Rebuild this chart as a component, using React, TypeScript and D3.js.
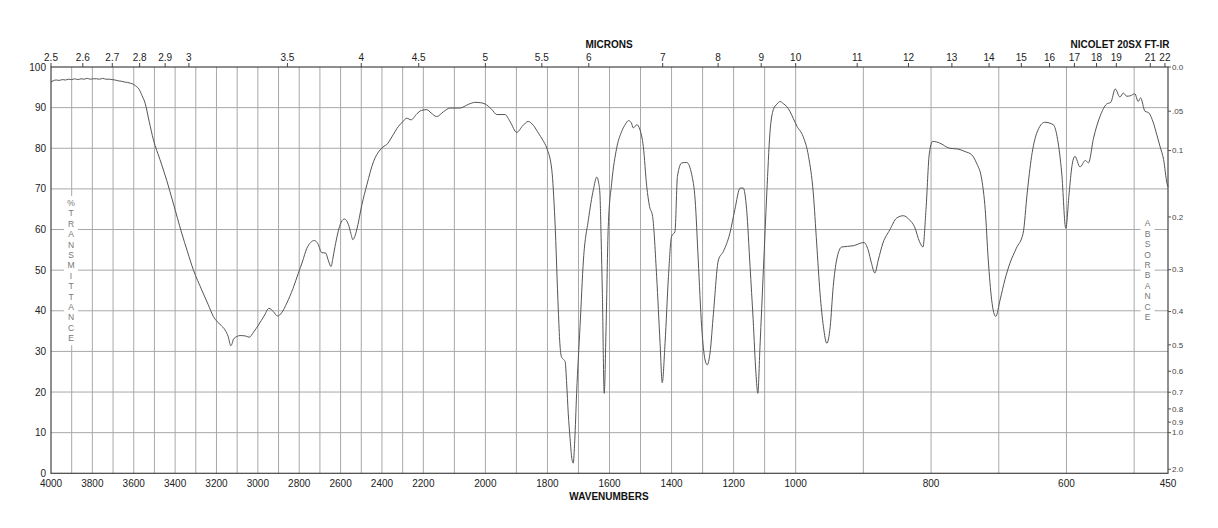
import { useEffect, useRef } from 'react';
import * as d3 from 'd3';

// spectrum: wavenumber (cm-1) and %T
const wavenumbers = [
  4000, 3990, 3975, 3960, 3945, 3930, 3915, 3900, 3885, 3870, 3855, 3840, 3825, 3810, 3795, 3780,
  3765, 3750, 3735, 3720, 3705, 3690, 3675, 3660, 3645, 3630, 3615, 3600, 3585, 3578, 3560, 3545,
  3525, 3505, 3473, 3440, 3409, 3368, 3340, 3312, 3271, 3240, 3215, 3180, 3159, 3143, 3131, 3124,
  3118, 3100, 3086, 3060, 3042, 3020, 2997, 2970, 2946, 2925, 2905, 2885, 2860, 2830, 2804, 2785,
  2763, 2745, 2727, 2710, 2691, 2672, 2660, 2646, 2637, 2627, 2602, 2582, 2562, 2550, 2541, 2532,
  2522, 2497, 2473, 2441, 2409, 2390, 2377, 2352, 2320, 2300, 2280, 2259, 2231, 2210, 2189, 2175,
  2157, 2135, 2114, 2082, 2055, 2033, 2015, 2001, 1980, 1963, 1937, 1920, 1899, 1880, 1862, 1845,
  1829, 1815, 1802, 1786, 1776, 1765, 1760, 1755, 1748, 1743, 1738, 1733, 1727, 1722, 1717, 1712,
  1706, 1695, 1684, 1668, 1652, 1641, 1635, 1631, 1627, 1623, 1617, 1611, 1604, 1593, 1577, 1561,
  1548, 1539, 1530, 1523, 1512, 1502, 1491, 1480, 1471, 1461, 1448, 1437, 1430, 1421, 1410, 1400,
  1389, 1381, 1367, 1351, 1335, 1324, 1314, 1303, 1292, 1285, 1276, 1265, 1249, 1233, 1212, 1196,
  1179, 1169, 1158, 1147, 1137, 1128, 1122, 1115, 1104, 1093, 1083, 1072, 1060, 1050, 1040, 1029,
  1018, 1008, 998, 989, 981, 974, 969, 964, 959, 954, 949, 944.5, 939.5, 932, 915, 899,
  893, 888, 883, 878, 871, 861, 851, 841, 832, 824.5, 817, 812, 807.5, 802.5, 797.5, 787.5,
  772.5, 760, 750, 740, 733, 725, 720, 715.5, 710.5, 704.5, 698, 691, 683.5, 674, 664, 658,
  651.5, 644, 632, 619.5, 613, 607, 601, 596, 592, 587.5, 580, 572, 567.5, 560, 550.5, 540.5,
  534.5, 528, 521, 516, 511, 506, 499, 494, 490.5, 484, 479, 471.5, 466.5, 461.5, 456.5, 451.5, 450,
];
const transmittance = [
  96.3, 96.6, 96.8, 96.7, 96.9, 96.8, 97.0, 96.9, 97.1, 96.9, 97.1, 97.0, 97.2, 97.0, 97.1, 97.1,
  97.0, 97.2, 97.0, 97.0, 96.9, 96.8, 96.6, 96.5, 96.3, 96.2, 96.0, 95.7, 95.1, 94.8, 93.0, 91.1,
  86.5, 82.1, 77.2, 72.0, 66.5, 59.1, 54.5, 50.1, 45.1, 41.5, 38.6, 36.5, 35.3, 33.6, 31.4, 32.0,
  33.0, 33.7, 33.9, 33.8, 33.5, 34.8, 36.5, 38.7, 40.6, 39.8, 38.7, 39.5, 41.9, 45.5, 49.3, 52.0,
  55.4, 56.8, 57.3, 56.5, 54.3, 54.2, 52.5, 50.9, 53.0, 55.8, 61.2, 62.6, 61.2, 59.0, 57.5, 58.2,
  59.9, 66.1, 71.0, 76.7, 79.6, 80.5, 80.9, 82.8, 85.4, 86.5, 87.4, 87.0, 88.5, 89.3, 89.5, 88.7,
  87.8, 89.0, 89.9, 89.9, 90.8, 91.3, 91.2, 90.9, 89.6, 88.3, 88.3, 86.5, 83.9, 85.5, 86.6, 85.6,
  83.7, 82.0, 80.0, 74.7, 62.4, 40.2, 32.0, 28.7, 28.0, 27.5, 22.0, 14.8, 8.5, 4.0, 2.5, 8.0,
  19.7, 36.1, 52.5, 62.4, 69.8, 72.9, 71.5, 69.0, 58.0, 44.3, 19.7, 36.1, 60.7, 71.4, 80.0, 84.1,
  86.0, 86.8, 86.3, 85.0, 85.8, 84.6, 80.4, 70.6, 65.7, 63.2, 48.4, 32.0, 22.3, 32.0, 48.4, 58.3,
  59.5, 73.1, 76.4, 76.5, 73.5, 67.3, 52.5, 36.1, 27.9, 26.7, 29.6, 39.4, 52.5, 54.6, 59.1, 64.9,
  70.2, 70.2, 64.9, 50.9, 37.8, 24.6, 19.7, 31.2, 50.1, 69.0, 83.7, 89.5, 90.9, 91.5, 91.0, 90.3,
  89.0, 87.4, 85.4, 82.9, 78.0, 69.0, 56.7, 44.3, 36.1, 32.0, 36.1, 46.0, 52.5, 55.7, 56.0, 56.8,
  55.0, 51.7, 49.3, 52.5, 56.7, 59.9, 62.8, 63.4, 62.4, 60.7, 57.0, 55.7, 64.9, 78.8, 81.7, 81.3,
  80.0, 79.8, 79.2, 78.4, 76.4, 72.2, 64.9, 52.5, 42.7, 38.6, 42.7, 47.6, 51.7, 55.4, 59.1, 69.0,
  78.0, 83.7, 86.4, 85.8, 82.1, 73.9, 60.3, 69.0, 75.5, 78.0, 75.4, 77.0, 76.4, 82.5, 87.8, 90.9,
  91.3, 94.6, 92.6, 93.6, 92.8, 92.9, 93.4, 91.5, 92.4, 89.1, 88.8, 86.2, 83.3, 80.3, 77.2, 71.4, 70.5,
];

const wavenumberTicks = [4000, 3800, 3600, 3400, 3200, 3000, 2800, 2600, 2400, 2200, 2000, 1800, 1600, 1400, 1200, 1000, 800, 600, 450];
const micronTicks = [2.5, 2.6, 2.7, 2.8, 2.9, 3, 3.5, 4, 4.5, 5, 5.5, 6, 7, 8, 9, 10, 11, 12, 13, 14, 15, 16, 17, 18, 19, 21, 22];
const percentTicks = [0, 10, 20, 30, 40, 50, 60, 70, 80, 90, 100];
const absorbanceTicks = [0, 0.05, 0.1, 0.2, 0.3, 0.4, 0.5, 0.6, 0.7, 0.8, 0.9, 1.0, 2.0];
const absorbanceLabels = ['0.0', '.05', '0.1', '0.2', '0.3', '0.4', '0.5', '0.6', '0.7', '0.8', '0.9', '1.0', '2.0'];

const FONT = "'Liberation Sans', Arial, Helvetica, sans-serif";

const App = () => {
  const ref = useRef<SVGSVGElement>(null);

  useEffect(() => {
    const width = 1218;
    const height = 528;
    const left = 51;
    const right = 1168;
    const top = 67;
    const bottom = 473.3;
    const seg = (right - left) / 3;

    const svg = d3.select(ref.current);
    svg.selectAll('*').remove();
    svg.attr('width', width).attr('height', height);

    // Nicolet paper: three equal-width panels with different cm-1 scales
    const x = d3.scaleLinear()
      .domain([4000, 2200, 1000, 450])
      .range([left, left + seg, left + 2 * seg, right]);
    const y = d3.scaleLinear().domain([0, 100]).range([bottom, top]);

    // vertical grid every 100 cm-1
    const gridX = d3.range(3900, 450, -100);
    svg.append('g')
      .selectAll('line')
      .data(gridX)
      .enter().append('line')
      .attr('x1', d => x(d)).attr('x2', d => x(d))
      .attr('y1', top).attr('y2', bottom)
      .attr('stroke', '#a8a8a8')
      .attr('stroke-width', 1);

    svg.append('g')
      .selectAll('line')
      .data(percentTicks.slice(1, -1))
      .enter().append('line')
      .attr('x1', left).attr('x2', right)
      .attr('y1', d => y(d)).attr('y2', d => y(d))
      .attr('stroke', '#a8a8a8')
      .attr('stroke-width', 1);

    // vertical axis captions with white boxes breaking the grid
    const drawStacked = (text: string, cx: number, y0: number) => {
      const chars = text.split('');
      svg.append('rect')
        .attr('x', cx - 7).attr('y', y0 - 7)
        .attr('width', 14).attr('height', (chars.length - 1) * 10.4 + 14)
        .attr('fill', '#fff');
      svg.append('g')
        .selectAll('text')
        .data(chars)
        .enter().append('text')
        .attr('x', cx)
        .attr('y', (_, i) => y0 + i * 10.4)
        .attr('dy', '0.35em')
        .attr('text-anchor', 'middle')
        .attr('font-family', FONT)
        .attr('font-size', 8.5)
        .attr('fill', '#777')
        .text(d => d);
    };
    drawStacked('%TRANSMITTANCE', 71, 203);
    drawStacked('ABSORBANCE', 1147.5, 223.5);

    // spectrum
    const line = d3.line<number>()
      .x(d => x(wavenumbers[d]))
      .y(d => y(transmittance[d]))
      .curve(d3.curveMonotoneX);
    svg.append('path')
      .datum(d3.range(wavenumbers.length))
      .attr('d', line)
      .attr('fill', 'none')
      .attr('stroke', '#555')
      .attr('stroke-width', 1);

    // frame
    svg.append('rect')
      .attr('x', left).attr('y', top)
      .attr('width', right - left).attr('height', bottom - top)
      .attr('fill', 'none')
      .attr('stroke', '#444')
      .attr('stroke-width', 1.2);

    // bottom: wavenumbers
    svg.append('g')
      .selectAll('text')
      .data(wavenumberTicks)
      .enter().append('text')
      .attr('x', d => x(d))
      .attr('y', 487)
      .attr('text-anchor', 'middle')
      .attr('font-family', FONT)
      .attr('font-size', 10)
      .attr('fill', '#222')
      .text(d => d);

    // top: microns
    const topAxis = svg.append('g');
    topAxis.selectAll('line')
      .data(micronTicks)
      .enter().append('line')
      .attr('x1', d => x(10000 / d)).attr('x2', d => x(10000 / d))
      .attr('y1', top - 4).attr('y2', top)
      .attr('stroke', '#444');
    topAxis.selectAll('text')
      .data(micronTicks)
      .enter().append('text')
      .attr('x', d => x(10000 / d))
      .attr('y', 61)
      .attr('text-anchor', 'middle')
      .attr('font-family', FONT)
      .attr('font-size', 10)
      .attr('fill', '#222')
      .text(d => d);

    // left: %T
    svg.append('g')
      .selectAll('text')
      .data(percentTicks)
      .enter().append('text')
      .attr('x', 46)
      .attr('y', d => y(d))
      .attr('dy', '0.35em')
      .attr('text-anchor', 'end')
      .attr('font-family', FONT)
      .attr('font-size', 10)
      .attr('fill', '#222')
      .text(d => d);

    // right: absorbance
    const absY = (a: number) => y(100 * Math.pow(10, -a));
    const rightAxis = svg.append('g');
    rightAxis.selectAll('line')
      .data(absorbanceTicks)
      .enter().append('line')
      .attr('x1', right).attr('x2', right + 3)
      .attr('y1', d => absY(d)).attr('y2', d => absY(d))
      .attr('stroke', '#555');
    rightAxis.selectAll('text')
      .data(absorbanceTicks)
      .enter().append('text')
      .attr('x', right + 4)
      .attr('y', d => absY(d))
      .attr('dy', '0.35em')
      .attr('font-family', FONT)
      .attr('font-size', 8)
      .attr('fill', '#444')
      .text((_, i) => absorbanceLabels[i]);

    // titles
    const title = (t: string, tx: number, ty: number) =>
      svg.append('text')
        .attr('x', tx).attr('y', ty)
        .attr('text-anchor', 'middle')
        .attr('font-family', FONT)
        .attr('font-size', 10)
        .attr('font-weight', 'bold')
        .attr('fill', '#111')
        .text(t);
    title('MICRONS', 609, 48);
    title('NICOLET 20SX FT-IR', 1120, 48);
    title('WAVENUMBERS', 609, 500);
  }, []);

  return <svg ref={ref} style={{ position: 'absolute', left: 0, top: 0, background: '#fff' }} />;
};

export default App;
